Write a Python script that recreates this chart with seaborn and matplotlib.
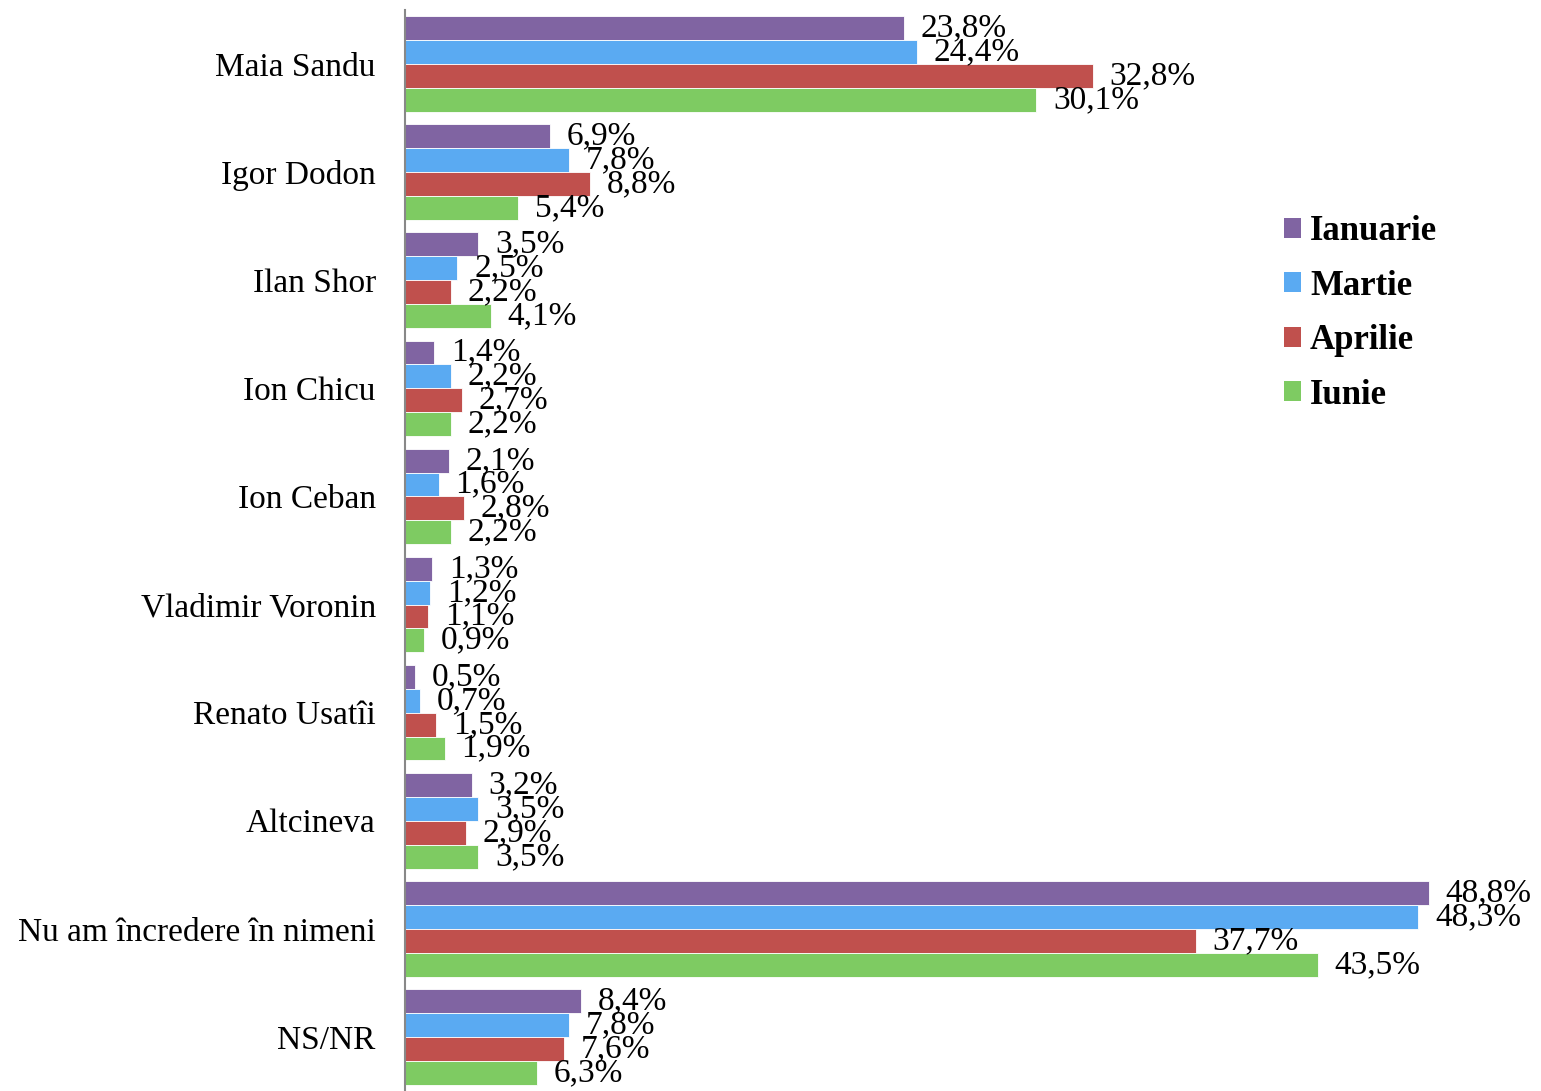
import matplotlib
matplotlib.use("Agg")
import matplotlib.pyplot as plt
from matplotlib.patches import Patch
import seaborn as sns
import pandas as pd

categories = ["Maia Sandu", "Igor Dodon", "Ilan Shor", "Ion Chicu", "Ion Ceban",
              "Vladimir Voronin", "Renato Usatîi", "Altcineva",
              "Nu am încredere în nimeni", "NS/NR"]
series_names = ["Ianuarie", "Martie", "Aprilie", "Iunie"]
ianuarie = [23.8, 6.9, 3.5, 1.4, 2.1, 1.3, 0.5, 3.2, 48.8, 8.4]
martie = [24.4, 7.8, 2.5, 2.2, 1.6, 1.2, 0.7, 3.5, 48.3, 7.8]
aprilie = [32.8, 8.8, 2.2, 2.7, 2.8, 1.1, 1.5, 2.9, 37.7, 7.6]
iunie = [30.1, 5.4, 4.1, 2.2, 2.2, 0.9, 1.9, 3.5, 43.5, 6.3]
colors = ["#8064A2", "#5AAAF2", "#C0504D", "#7ECB62"]

rows = []
for name, vals in zip(series_names, [ianuarie, martie, aprilie, iunie]):
    for c, v in zip(categories, vals):
        rows.append({"cat": c, "luna": name, "val": v})
df = pd.DataFrame(rows)

sns.set_style("white")
plt.rcParams["font.family"] = ["Liberation Serif", "DejaVu Serif"]
plt.rcParams["text.color"] = "black"
plt.rcParams["ytick.labelcolor"] = "black"

fig = plt.figure(figsize=(15.41, 10.91), dpi=100)
ax = fig.add_axes([405/1541, 0.0, 1 - 405/1541, 1 - 10/1091])

sns.barplot(data=df, y="cat", x="val", hue="luna", orient="h",
            palette=colors, width=0.885, ax=ax, legend=False,
            edgecolor="white", linewidth=0.6, saturation=1)

for cont in ax.containers:
    labels = [f"{b.get_width():.1f}".replace(".", ",") + "%" for b in cont]
    ax.bar_label(cont, labels=labels, padding=12, fontsize=24, color="black")

ax.set_xlim(0, (1541 - 405) / 20.98)
ax.set_ylim(len(categories) - 0.5, -0.5)
ax.set_xlabel("")
ax.set_ylabel("")
ax.set_xticks([])
ax.set_yticks(range(len(categories)))
ax.set_yticklabels(categories, fontsize=24, color="black")
ax.tick_params(axis="y", which="major", length=0, pad=21)
ax.set_yticks([i - 0.5 for i in range(len(categories) + 1)], minor=True)
ax.tick_params(axis="y", which="minor", length=8, color="#888888", width=1.2)
for s in ["top", "right", "bottom"]:
    ax.spines[s].set_visible(False)
ax.spines["left"].set_color("#888888")
ax.spines["left"].set_linewidth(1.5)

handles = [Patch(facecolor=c, edgecolor="none") for c in colors]
leg = fig.legend(handles, series_names, loc="upper left",
                 bbox_to_anchor=(1284/1541, 1 - 215/1091), frameon=False,
                 prop={"size": 25, "weight": "bold"}, handlelength=0.5,
                 handleheight=0.5, handletextpad=0.25, labelspacing=0.62,
                 borderpad=0, borderaxespad=0)
for t in leg.get_texts():
    t.set_color("black")

fig.savefig("out.png", dpi=100, facecolor="white")
